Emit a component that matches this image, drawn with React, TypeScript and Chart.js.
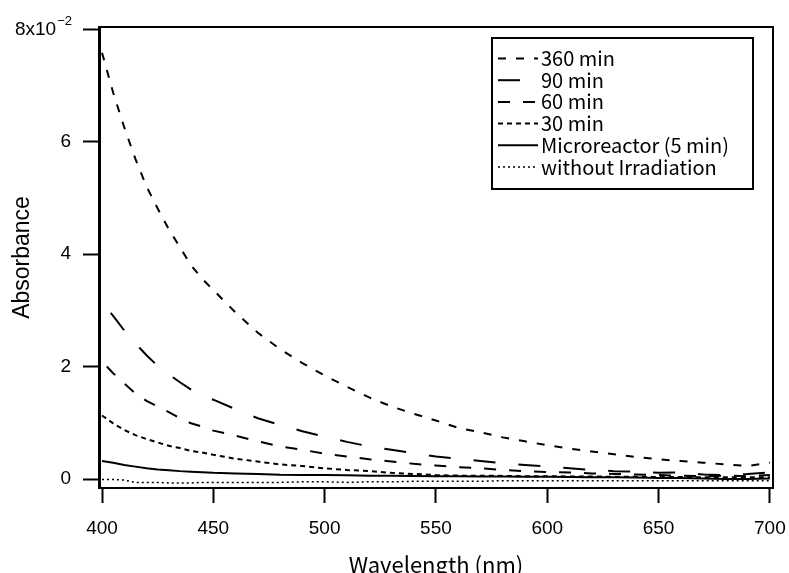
import React, { useEffect, useRef } from "react";
import { Chart, registerables } from "chart.js";

Chart.register(...registerables);

// ---------- data ----------
const wavelengths = [400, 405, 410, 415, 420, 425, 430, 435, 440, 445, 450, 460, 470, 480, 490, 500, 510, 520, 530, 540, 550, 560, 570, 580, 590, 600, 610, 620, 630, 640, 650, 660, 670, 680, 690, 700];

const abs360 = [7.58, 6.87, 6.25, 5.69, 5.2, 4.81, 4.44, 4.12, 3.8, 3.56, 3.36, 2.96, 2.6, 2.31, 2.06, 1.84, 1.64, 1.45, 1.29, 1.16, 1.04, 0.91, 0.83, 0.74, 0.67, 0.6, 0.54, 0.49, 0.44, 0.39, 0.35, 0.32, 0.29, 0.26, 0.23, 0.29];
const abs90 = [3.15, 2.9, 2.64, 2.41, 2.2, 2.01, 1.86, 1.72, 1.59, 1.48, 1.41, 1.24, 1.08, 0.96, 0.85, 0.75, 0.66, 0.58, 0.52, 0.46, 0.4, 0.36, 0.32, 0.28, 0.25, 0.22, 0.19, 0.16, 0.14, 0.13, 0.11, 0.12, 0.08, 0.07, 0.09, 0.12];
const abs60 = [2.09, 1.88, 1.7, 1.52, 1.39, 1.29, 1.19, 1.08, 0.99, 0.93, 0.86, 0.77, 0.67, 0.58, 0.52, 0.45, 0.4, 0.35, 0.31, 0.27, 0.24, 0.21, 0.19, 0.16, 0.14, 0.125, 0.115, 0.1, 0.09, 0.08, 0.07, 0.06, 0.05, 0.06, 0.05, 0.07];
const abs30 = [1.13, 0.99, 0.87, 0.78, 0.71, 0.65, 0.59, 0.55, 0.5, 0.47, 0.43, 0.36, 0.31, 0.26, 0.23, 0.19, 0.16, 0.14, 0.11, 0.09, 0.07, 0.06, 0.06, 0.055, 0.05, 0.05, 0.045, 0.045, 0.04, 0.04, 0.035, 0.035, 0.03, 0.03, 0.03, 0.03];
const absMicro = [0.32, 0.29, 0.25, 0.22, 0.19, 0.17, 0.155, 0.14, 0.13, 0.12, 0.11, 0.1, 0.09, 0.075, 0.07, 0.07, 0.065, 0.06, 0.06, 0.055, 0.05, 0.05, 0.045, 0.045, 0.04, 0.04, 0.035, 0.03, 0.03, 0.025, 0.02, 0.02, 0.01, 0.0, 0.0, 0.01];
const absNone = [-0.01, -0.01, -0.02, -0.06, -0.06, -0.06, -0.07, -0.07, -0.07, -0.06, -0.06, -0.06, -0.06, -0.06, -0.05, -0.05, -0.06, -0.05, -0.05, -0.04, -0.04, -0.04, -0.04, -0.03, -0.03, -0.03, -0.03, -0.03, -0.03, -0.03, -0.03, -0.03, -0.03, -0.03, -0.03, -0.03];

const seriesLabels = ["360 min", "90 min", "60 min", "30 min", "Microreactor (5 min)", "without Irradiation"];

const xTicks = [400, 450, 500, 550, 600, 650, 700];
const xTickLabels = ["400", "450", "500", "550", "600", "650", "700"];
const yTicks = [0, 2, 4, 6, 8];
const yTickLabels = ["0", "2", "4", "6", "8x10"];
const yTopExponent = "\u22122";
const xTitle = "Wavelength (nm)";
const yTitle = "Absorbance";

const toPoints = (vals: number[]) => vals.map((v, i) => ({ x: wavelengths[i], y: v }));

const TICK_FONT = '"Liberation Sans", Arial, sans-serif';
const JP_FONT = '"Noto Sans CJK JP", "Liberation Sans", sans-serif';

const framePlugin = {
  id: "frame",
  afterDraw(chart: any) {
    const { ctx, chartArea } = chart;
    ctx.save();
    ctx.strokeStyle = "#000";
    ctx.lineWidth = 2;
    ctx.beginPath();
    ctx.moveTo(chartArea.left, chartArea.top);
    ctx.lineTo(chartArea.right, chartArea.top);
    ctx.lineTo(chartArea.right, chartArea.bottom);
    ctx.stroke();

    // top y label with exponent
    const yScale = chart.scales.y;
    const yPix = yScale.getPixelForValue(yTicks[yTicks.length - 1]);
    const right = 72;
    ctx.fillStyle = "#000";
    ctx.textBaseline = "middle";
    ctx.textAlign = "right";
    ctx.font = `13px ${TICK_FONT}`;
    const supW = ctx.measureText(yTopExponent).width;
    ctx.fillText(yTopExponent, right, yPix - 8);
    ctx.font = `19px ${TICK_FONT}`;
    ctx.fillText(yTickLabels[yTickLabels.length - 1], right - supW - 1, yPix + 1);
    ctx.restore();
  },
};

const legendPlugin = {
  id: "boxLegend",
  afterDraw(chart: any) {
    const { ctx } = chart;
    const bx = 492, by = 38, bw = 261, bh = 151;
    ctx.save();
    ctx.strokeStyle = "#000";
    ctx.lineWidth = 2;
    ctx.strokeRect(bx, by, bw, bh);
    chart.data.datasets.forEach((ds: any, i: number) => {
      const y = 58.5 + i * 21.7;
      ctx.setLineDash(ds.borderDash || []);
      ctx.lineDashOffset = 0;
      ctx.lineWidth = ds.borderWidth;
      ctx.beginPath();
      ctx.moveTo(498, y);
      ctx.lineTo(538, y);
      ctx.stroke();
      ctx.setLineDash([]);
      ctx.fillStyle = "#000";
      ctx.font = `20px ${JP_FONT}`;
      ctx.textBaseline = "middle";
      ctx.textAlign = "left";
      ctx.fillText(ds.label, 541, y);
    });
    ctx.restore();
  },
};

export default function App() {
  const ref = useRef<HTMLCanvasElement | null>(null);

  useEffect(() => {
    if (!ref.current) return;
    const mk = (label: string, vals: number[], dash: number[], offset = 0, width = 2) => ({
      label,
      data: toPoints(vals),
      borderColor: "#000",
      backgroundColor: "#000",
      borderWidth: width,
      borderDash: dash,
      borderDashOffset: offset,
      pointRadius: 0,
      tension: 0,
      fill: false,
    });
    const chart = new Chart(ref.current, {
      type: "line",
      data: {
        datasets: [
          mk(seriesLabels[0], abs360, [8, 10]),
          mk(seriesLabels[1], abs90, [22, 23], 31),
          mk(seriesLabels[2], abs60, [12, 13], 18),
          mk(seriesLabels[3], abs30, [5, 4]),
          mk(seriesLabels[4], absMicro, []),
          mk(seriesLabels[5], absNone, [2, 3], 0, 1.5),
        ],
      },
      options: {
        responsive: false,
        animation: false,
        devicePixelRatio: 1,
        layout: { padding: { left: 0, right: 16, top: 27, bottom: 0 } },
        plugins: { legend: { display: false }, tooltip: { enabled: false } },
        scales: {
          x: {
            type: "linear",
            min: 398.65,
            max: 701.4,
            afterBuildTicks: (s: any) => {
              s.ticks = xTicks.map((v) => ({ value: v }));
            },
            afterFit: (s: any) => {
              s.height = 85;
              s.paddingLeft = 0;
              s.paddingRight = 0;
            },
            ticks: {
              color: "#000",
              font: { family: TICK_FONT, size: 19 },
              padding: 14,
              maxRotation: 0,
              autoSkip: false,
              callback: (v: any) => {
                const i = xTicks.indexOf(Number(v));
                return i >= 0 ? xTickLabels[i] : "";
              },
            },
            grid: { drawOnChartArea: false, drawTicks: true, tickLength: 15, tickWidth: 2, tickColor: "#000" },
            border: { display: true, color: "#000", width: 2 },
            title: {
              display: true,
              text: xTitle,
              color: "#000",
              font: { family: JP_FONT, size: 22 },
              padding: { top: 0, bottom: -5 },
            },
          },
          y: {
            type: "linear",
            min: -0.16,
            max: 8.036,
            afterBuildTicks: (s: any) => {
              s.ticks = yTicks.map((v) => ({ value: v }));
            },
            afterFit: (s: any) => {
              s.width = 99;
              s.paddingTop = 0;
              s.paddingBottom = 0;
            },
            ticks: {
              color: "#000",
              font: { family: TICK_FONT, size: 19 },
              padding: 12,
              autoSkip: false,
              callback: (v: any) => {
                const i = yTicks.indexOf(Number(v));
                if (i < 0 || i === yTicks.length - 1) return "";
                return yTickLabels[i];
              },
            },
            grid: { drawOnChartArea: false, drawTicks: true, tickLength: 16, tickWidth: 2, tickColor: "#000" },
            border: { display: true, color: "#000", width: 3 },
            title: {
              display: true,
              text: yTitle,
              color: "#000",
              font: { family: TICK_FONT, size: 23 },
              padding: { top: 9, bottom: 0 },
            },
          },
        },
      },
      plugins: [framePlugin, legendPlugin],
    } as any);
    return () => chart.destroy();
  }, []);

  return (
    <div style={{ position: "fixed", left: 0, top: 0, width: 789, height: 573, background: "#fff" }}>
      <canvas ref={ref} width={789} height={573} style={{ display: "block", width: 789, height: 573 }} />
    </div>
  );
}
